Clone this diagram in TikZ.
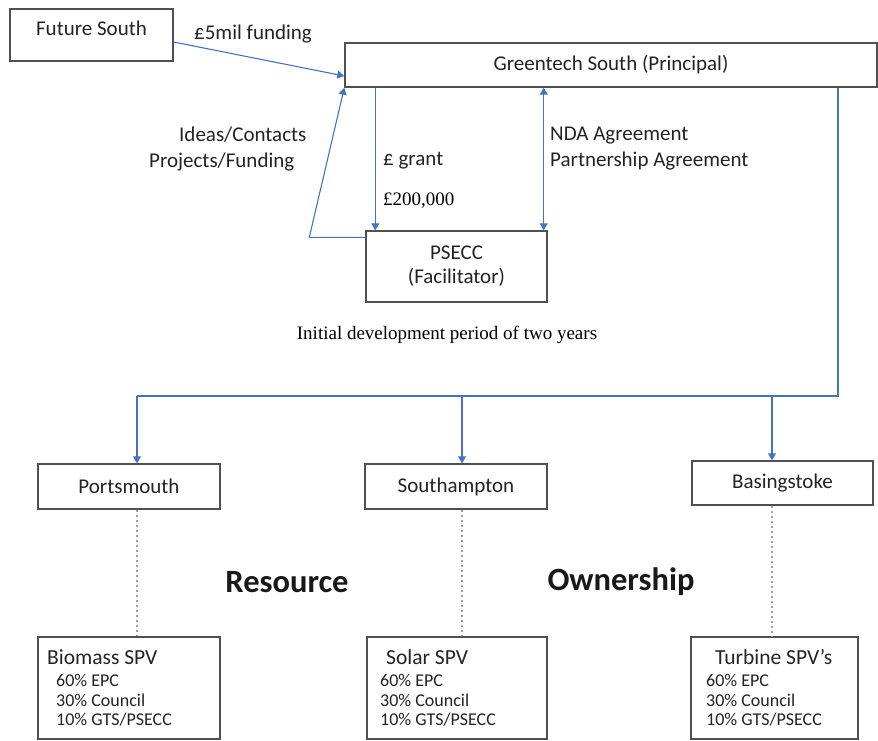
\documentclass[tikz,border=0pt]{standalone}
\usepackage{fontspec}
\setmainfont{Carlito}
\newfontfamily\timesfont{Liberation Serif}
\usetikzlibrary{arrows.meta}
\definecolor{linkblue}{RGB}{68,114,196}
\definecolor{boxgrey}{RGB}{80,80,80}
\definecolor{dotgrey}{RGB}{160,160,160}
\definecolor{txtgrey}{RGB}{35,35,35}
\begin{document}
\begin{tikzpicture}[x=1pt,y=-1pt,
	box/.style={draw=boxgrey,line width=1.4pt,text=txtgrey,align=center,inner sep=0pt,
		font=\fontsize{21}{24}\selectfont},
	lbl/.style={text=txtgrey,inner sep=0pt,font=\fontsize{21}{26}\selectfont},
	serif/.style={text=black,inner sep=0pt,font=\timesfont\fontsize{19}{22}\selectfont},
	spvtxt/.style={text=txtgrey,inner sep=0pt,align=left,anchor=north west,
		font=\fontsize{18}{19.5}\selectfont},
	big/.style={text=black!90,inner sep=0pt,font=\fontsize{32.5}{38}\selectfont\bfseries},
	link/.style={draw=linkblue,line width=1.1pt},
	flow/.style={link,-{Triangle[width=8pt,length=7pt]}},
	both/.style={link,{Triangle[width=8pt,length=7pt]}-{Triangle[width=8pt,length=7pt]}},
	dots/.style={draw=dotgrey,line width=2.5pt,dash pattern=on 2.5pt off 2.5pt}]
\useasboundingbox (0,0) rectangle (878,740);

\node[box,minimum width=163pt,minimum height=52pt,text depth=13pt] (fs) at (91.5,35) {Future South};
\node[box,minimum width=532pt,minimum height=44pt] (gs) at (611,65) {Greentech South (Principal)};
\node[box,minimum width=181pt,minimum height=71pt] (psecc) at (456.5,266.5) {PSECC\\(Facilitator)};

\node[box,minimum width=182pt,minimum height=45pt] (port) at (129,486.5) {Portsmouth};
\node[box,minimum width=182pt,minimum height=45pt] (soton) at (456,486.5) {Southampton};
\node[box,minimum width=181pt,minimum height=44pt] (basing) at (782.5,483) {Basingstoke};

\node[box,minimum width=182pt,minimum height=102pt] (bio) at (129,688) {};
\node[box,minimum width=180pt,minimum height=102pt] (solar) at (457,688) {};
\node[box,minimum width=167pt,minimum height=102pt] (turb) at (774.5,688) {};

\node[spvtxt] (biotxt) at (47,649) {{\fontsize{21.5}{20}\selectfont Biomass SPV}\\[3pt]
	\hspace{9pt}60\% EPC\\\hspace{9pt}30\% Council\\\hspace{9pt}10\% GTS/PSECC};
\node[spvtxt] (solartxt) at (380,649) {{\fontsize{21.5}{20}\selectfont\hspace{6pt}Solar SPV}\\[3pt]
	60\% EPC\\30\% Council\\10\% GTS/PSECC};
\node[spvtxt] (turbtxt) at (706,649) {{\fontsize{21.5}{20}\selectfont\hspace{9pt}Turbine SPV's}\\[3pt]
	60\% EPC\\30\% Council\\10\% GTS/PSECC};

\node[lbl,anchor=west] (fund) at (194,34) {£5mil funding};
\node[lbl,anchor=west,align=left] (ideas) at (149,149) {\hspace{30pt}Ideas/Contacts\\Projects/Funding};
\node[lbl,anchor=west] (grant) at (383,161) {£ grant};
\node[serif,anchor=west] (amount) at (383,201) {£200,000};
\node[lbl,anchor=west,align=left] (nda) at (550,149) {NDA Agreement\\Partnership Agreement};
\node[serif] (period) at (447,335) {Initial development period of two years};
\node[big] (res) at (287,582) {Resource};
\node[big] (own) at (621,582) {Ownership};

\coordinate (split) at (838,396);
\coordinate (d1) at (137,396);
\coordinate (d2) at (462,396);
\coordinate (d3) at (772,396);

\draw[flow] ([yshift=-7pt]fs.east) -- ([yshift=-11pt]gs.west);
\draw[flow] ([yshift=-7pt]psecc.north west) -- ++(-56,0) -- (gs.south west);
\draw[flow] ([xshift=10pt]psecc.north west |- gs.south) -- ([xshift=10pt]psecc.north west);
\draw[both] ([xshift=-4pt]psecc.north east) -- ([xshift=-4pt]psecc.north east |- gs.south);

\draw[link] (split |- gs.south) -- (split) -- (d1);
\draw[flow] (d1) -- (d1 |- port.north);
\draw[flow] (d2) -- (d2 |- soton.north);
\draw[flow] (d3) -- (d3 |- basing.north);

\draw[dots] (d1 |- port.south) -- (d1 |- bio.north);
\draw[dots] (d2 |- soton.south) -- (d2 |- solar.north);
\draw[dots] (d3 |- basing.south) -- (d3 |- turb.north);
\end{tikzpicture}
\end{document}
